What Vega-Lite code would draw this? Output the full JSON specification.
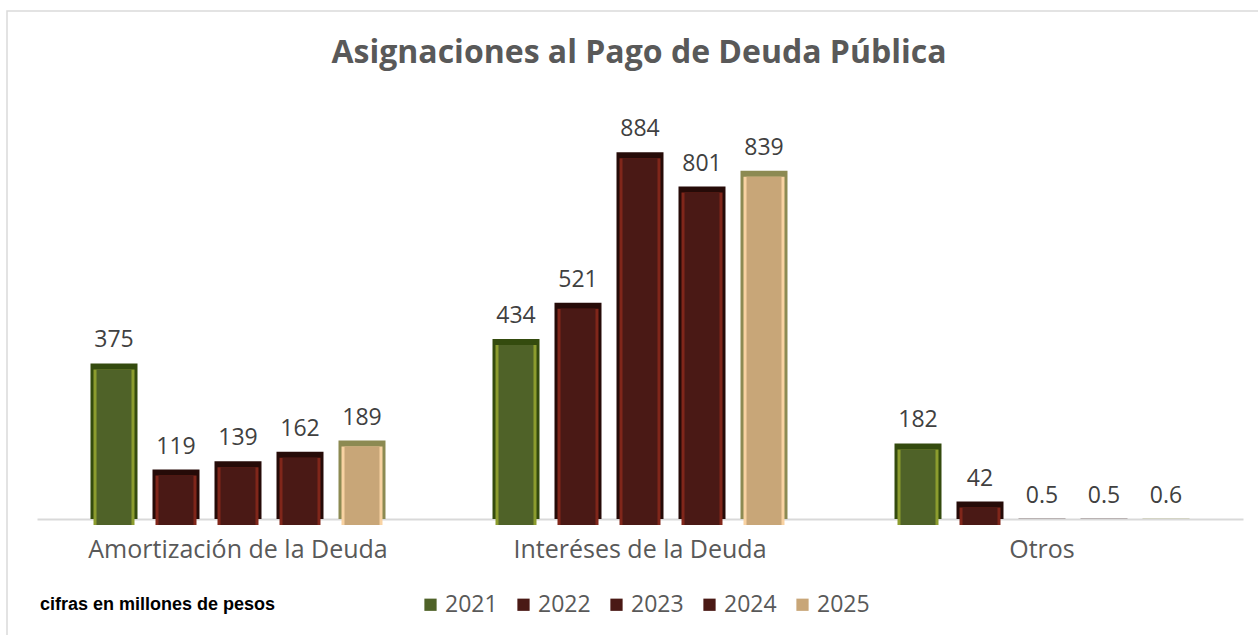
{
  "$schema": "https://vega.github.io/schema/vega-lite/v6.json",
  "autosize": {"type": "none"},
  "padding": {"left": 7, "top": 11, "right": 0, "bottom": 0},
  "width": 1260,
  "height": 630,
  "background": "white",
  "title": {
    "text": "Asignaciones al Pago de Deuda Pública",
    "anchor": "middle",
    "font": "Open Sans",
    "fontSize": 32,
    "fontWeight": "bold",
    "color": "#595959",
    "baseline": "top",
    "offset": 0,
    "dy": 59,
    "dx": 2
  },
  "data": {
    "values": [
      {"categoria": "Amortización de la Deuda", "anio": "2021", "valor": 375},
      {"categoria": "Amortización de la Deuda", "anio": "2022", "valor": 119},
      {"categoria": "Amortización de la Deuda", "anio": "2023", "valor": 139},
      {"categoria": "Amortización de la Deuda", "anio": "2024", "valor": 162},
      {"categoria": "Amortización de la Deuda", "anio": "2025", "valor": 189},
      {"categoria": "Interéses de la Deuda", "anio": "2021", "valor": 434},
      {"categoria": "Interéses de la Deuda", "anio": "2022", "valor": 521},
      {"categoria": "Interéses de la Deuda", "anio": "2023", "valor": 884},
      {"categoria": "Interéses de la Deuda", "anio": "2024", "valor": 801},
      {"categoria": "Interéses de la Deuda", "anio": "2025", "valor": 839},
      {"categoria": "Otros", "anio": "2021", "valor": 182},
      {"categoria": "Otros", "anio": "2022", "valor": 42},
      {"categoria": "Otros", "anio": "2023", "valor": 0.5},
      {"categoria": "Otros", "anio": "2024", "valor": 0.5},
      {"categoria": "Otros", "anio": "2025", "valor": 0.6}
    ]
  },
  "encoding": {
    "x": {
      "field": "categoria",
      "type": "nominal",
      "sort": null,
      "scale": {"range": [30, 1236], "paddingInner": 0, "paddingOuter": 0},
      "axis": {
        "title": null,
        "orient": "bottom",
        "offset": -122,
        "ticks": false,
        "labelAngle": 0,
        "labelFont": "Open Sans",
        "labelFontSize": 25,
        "labelColor": "#595959",
        "labelPadding": 18,
        "labelLimit": 500,
        "domainColor": "#D9D9D9",
        "domainWidth": 2,
        "grid": false
      }
    },
    "y": {
      "field": "valor",
      "type": "quantitative",
      "scale": {"domain": [0, 1000], "range": [508, 93]},
      "axis": null
    }
  },
  "layer": [
    {
      "mark": {"type": "bar"},
      "encoding": {
        "xOffset": {
          "field": "anio",
          "type": "nominal",
          "scale": {"paddingInner": 0.242, "paddingOuter": 0.863}
        },
        "color": {
          "field": "anio",
          "type": "nominal",
          "scale": {"domain": ["2021", "2022", "2023", "2024", "2025"], "range": ["#344B0E", "#260B08", "#260B08", "#260B08", "#8C8A52"]},
          "legend": null
        }
      }
    },
    {
      "transform": [{"filter": "datum.valor > 5"}],
      "mark": {"type": "bar", "xOffset": -3, "yOffset": 6},
      "encoding": {
        "xOffset": {
          "field": "anio",
          "type": "nominal",
          "scale": {"paddingInner": 0.3387, "paddingOuter": 0.9114}
        },
        "color": {
          "field": "anio",
          "type": "nominal",
          "scale": {"domain": ["2021", "2022", "2023", "2024", "2025"], "range": ["#8C9C2E", "#80261A", "#80261A", "#80261A", "#F8D2A2"]},
          "legend": null
        }
      }
    },
    {
      "transform": [{"filter": "datum.valor > 5"}],
      "mark": {"type": "bar", "yOffset": 6, "y2Offset": -5},
      "encoding": {
        "xOffset": {
          "field": "anio",
          "type": "nominal",
          "scale": {"paddingInner": 0.4355, "paddingOuter": 0.9597}
        },
        "color": {
          "field": "anio",
          "type": "nominal",
          "scale": {"domain": ["2021", "2022", "2023", "2024", "2025"], "range": ["#4F6228", "#4A1915", "#4A1915", "#4A1915", "#C8A678"]},
          "legend": {
            "title": "cifras en millones de pesos",
            "orient": "none",
            "direction": "horizontal",
            "legendX": 33,
            "legendY": 582,
            "padding": 0,
            "titleOrient": "left",
            "titleFont": "Liberation Sans",
            "titleFontSize": 18,
            "titleFontWeight": "bold",
            "titleColor": "#000000",
            "titleLimit": 400,
            "titlePadding": 143,
            "titleBaseline": "middle",
            "symbolType": "square",
            "symbolSize": 150,
            "symbolStrokeWidth": 0,
            "labelFont": "Open Sans",
            "labelFontSize": 23,
            "labelColor": "#595959",
            "labelOffset": 3,
            "columnPadding": 14
          }
        }
      }
    },
    {
      "mark": {"type": "text", "dy": -16, "baseline": "alphabetic", "font": "Open Sans", "fontSize": 23, "color": "#404040"},
      "encoding": {
        "xOffset": {
          "field": "anio",
          "type": "nominal",
          "scale": {"type": "band", "paddingInner": 0.242, "paddingOuter": 0.863}
        },
        "text": {"field": "valor", "type": "quantitative", "format": ".3~r"}
      }
    }
  ],
  "resolve": {"scale": {"color": "independent", "xOffset": "independent"}},
  "config": {
    "view": {"stroke": "#DADADA", "strokeWidth": 1.5}
  }
}
